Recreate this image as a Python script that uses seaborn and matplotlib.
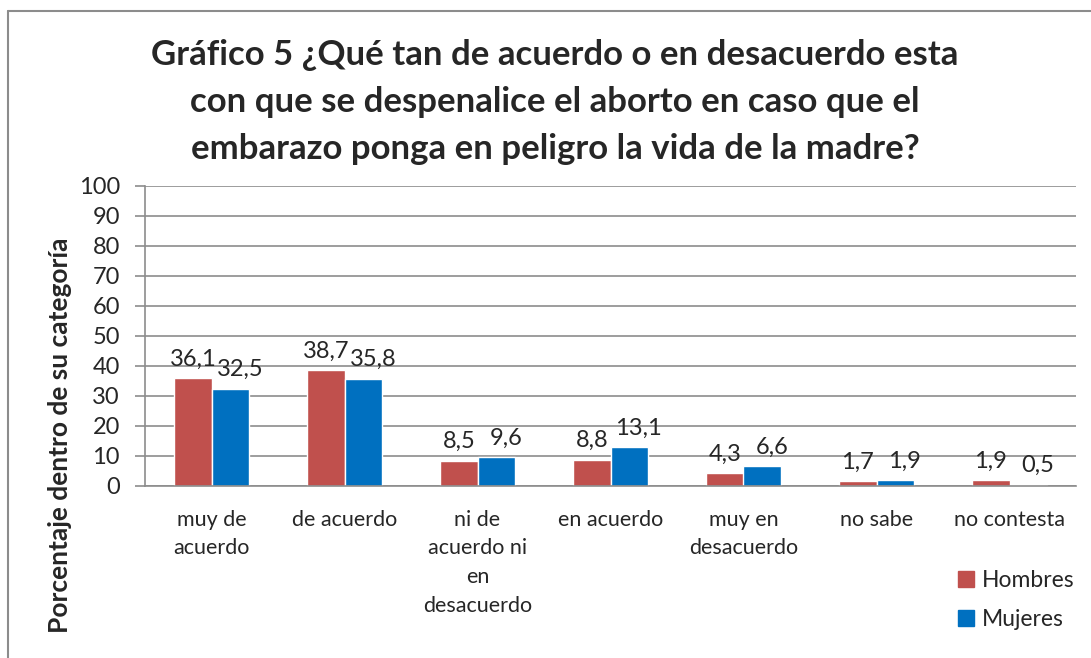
import matplotlib
matplotlib.use("Agg")
import matplotlib.pyplot as plt
import seaborn as sns
import pandas as pd
from matplotlib.lines import Line2D

categories = ["muy de\nacuerdo", "de acuerdo", "ni de\nacuerdo ni\nen\ndesacuerdo",
              "en acuerdo", "muy en\ndesacuerdo", "no sabe", "no contesta"]
series = ["Hombres", "Mujeres"]
hombres = [36.1, 38.7, 8.5, 8.8, 4.3, 1.7, 1.9]
mujeres = [32.5, 35.8, 9.6, 13.1, 6.6, 1.9, 0.5]
yticks = list(range(0, 101, 10))
title = ("Gráfico 5 ¿Qué tan de acuerdo o en desacuerdo esta\n"
         "con que se despenalice el aborto en caso que el\n"
         "embarazo ponga en peligro la vida de la madre?")
ylabel = "Porcentaje dentro de su categoría"

colors = {"Hombres": "#C0504D", "Mujeres": "#0070C0"}

df = pd.DataFrame({
    "cat": categories * 2,
    "serie": [series[0]] * len(categories) + [series[1]] * len(categories),
    "valor": hombres + mujeres,
})

sns.set_style("white")
plt.rcParams["font.family"] = ["Lato", "DejaVu Sans"]

W, H = 1091, 658
fig = plt.figure(figsize=(W / 100, H / 100), dpi=100)
ax = fig.add_axes([145 / W, 1 - 486 / H, (1076 - 145) / W, (486 - 186) / H])

sns.barplot(data=df, x="cat", y="valor", hue="serie", palette=colors,
            width=0.56, ax=ax, saturation=1, legend=False)

ax.set_ylim(0, 100)
ax.set_yticks(yticks)
ax.set_xlim(-0.5, len(categories) - 0.5)
ax.yaxis.grid(True, color="#8c8c8c", linewidth=1.2)
ax.set_axisbelow(True)
for s in ["top", "right"]:
    ax.spines[s].set_visible(False)
ax.spines["left"].set_color("#8c8c8c")
ax.spines["bottom"].set_color("#8c8c8c")
ax.spines["left"].set_linewidth(1.2)
ax.spines["bottom"].set_linewidth(1.2)
ax.tick_params(axis="y", length=7, width=1.2, color="#8c8c8c", labelsize=17, pad=11, direction="out", left=True)
ax.tick_params(axis="x", length=0, labelsize=15.5, pad=17)
for lab in ax.get_xticklabels():
    lab.set_linespacing(1.55)
    lab.set_verticalalignment("top")
ax.set_xlabel("")
ax.set_ylabel("")

# data labels
offsets = {"Hombres": 0, "Mujeres": 7}
for cont, name in zip(ax.containers, series):
    vals = hombres if name == "Hombres" else mujeres
    for bar, v in zip(cont, vals):
        ax.annotate(f"{v:.1f}".replace(".", ","),
                    (bar.get_x() + bar.get_width() / 2, bar.get_height()),
                    xytext=(offsets[name], 6), textcoords="offset points",
                    ha="center", va="bottom", fontsize=17)

fig.text(555 / W, 1 - 102 / H, title, ha="center", va="center",
         fontsize=25, fontweight="bold", linespacing=1.58)
fig.text(60 / W, 1 - 435 / H, ylabel, rotation=90, ha="center", va="center",
         fontsize=19, fontweight="bold")

handles = [plt.Rectangle((0, 0), 1, 1, color=colors[s]) for s in series]
fig.legend(handles, series, loc="center left", bbox_to_anchor=(958 / W, 1 - 600 / H),
           frameon=False, fontsize=16.5, handlelength=0.7, handleheight=0.7,
           handletextpad=0.35, labelspacing=0.8, borderpad=0, borderaxespad=0)

fig.add_artist(Line2D([8 / W, 1], [1 - 11 / H, 1 - 11 / H], color="#8c8c8c", lw=1.5))
fig.add_artist(Line2D([8 / W, 8 / W], [0, 1 - 11 / H], color="#8c8c8c", lw=1.5))

fig.savefig("out.png", dpi=100)
